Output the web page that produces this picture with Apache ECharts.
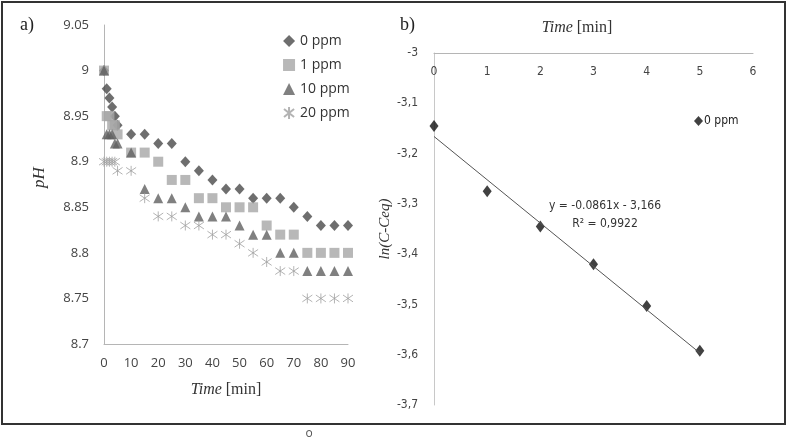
<!DOCTYPE html>
<html>
<head>
<meta charset="utf-8">
<script src="https://cdn.jsdelivr.net/npm/echarts@6/dist/echarts.min.js"></script>
<style>html,body{margin:0;padding:0;background:#fff;}#c{width:787px;height:438px;}</style>
</head>
<body>
<div id="c"></div>
<script>
// ---- Panel a) data ----
var timeA = [0, 1, 2, 3, 4, 5, 10, 15, 20, 25, 30, 35, 40, 45, 50, 55, 60, 65, 70, 75, 80, 85, 90];
var ph0 = [9.00, 8.98, 8.97, 8.96, 8.95, 8.94, 8.93, 8.93, 8.92, 8.92, 8.90, 8.89, 8.88, 8.87, 8.87, 8.86, 8.86, 8.86, 8.85, 8.84, 8.83, 8.83, 8.83];
var ph1 = [9.00, 8.95, 8.95, 8.94, 8.94, 8.93, 8.91, 8.91, 8.90, 8.88, 8.88, 8.86, 8.86, 8.85, 8.85, 8.85, 8.83, 8.82, 8.82, 8.80, 8.80, 8.80, 8.80];
var ph10 = [9.00, 8.93, 8.93, 8.93, 8.92, 8.92, 8.91, 8.87, 8.86, 8.86, 8.85, 8.84, 8.84, 8.84, 8.83, 8.82, 8.82, 8.80, 8.80, 8.78, 8.78, 8.78, 8.78];
var ph20 = [8.90, 8.90, 8.90, 8.90, 8.90, 8.89, 8.89, 8.86, 8.84, 8.84, 8.83, 8.83, 8.82, 8.82, 8.81, 8.80, 8.79, 8.78, 8.78, 8.75, 8.75, 8.75, 8.75];
var seriesNamesA = ['0 ppm', '1 ppm', '10 ppm', '20 ppm'];

// ---- Panel b) data ----
var timeB = [0, 1, 2, 3, 4, 5];
var lnC = [-3.145, -3.275, -3.345, -3.42, -3.503, -3.592];
var trendX = [0, 5];
var trendY = [-3.166, -3.5965];
var eqText = 'y = -0.0861x - 3,166';
var r2Text = 'R\u00B2 = 0,9922';

function pairs(xs, ys) { return xs.map(function (x, i) { return [x, ys[i]]; }); }

var starPath = 'path://M5,0 L5,10 M0.8,1.6 L9.2,8.4 M0.8,8.4 L9.2,1.6';
var sans = '"Open Sans", "Liberation Sans", sans-serif';
var narrow = '"DejaVu Sans Condensed", "Liberation Sans Narrow", "Liberation Sans", sans-serif';
var serif = '"Liberation Serif", "DejaVu Serif", serif';

var chart = echarts.init(document.getElementById('c'));
chart.setOption({
  backgroundColor: '#fff',
  animation: false,
  grid: [
    { left: 104, right: 439, top: 25, bottom: 94 },
    { left: 434, right: 34, top: 53, bottom: 33 }
  ],
  xAxis: [
    {
      gridIndex: 0, type: 'value', min: 0, max: 90, interval: 10,
      axisLine: { show: true, lineStyle: { color: '#b5b5b5', width: 1 } },
      axisTick: { show: false }, splitLine: { show: false },
      axisLabel: { margin: 13, color: '#444', fontFamily: sans, fontSize: 13 },
      name: '{i|Time} [min]', nameLocation: 'middle', nameGap: 38,
      nameTextStyle: { fontFamily: serif, fontSize: 16, color: '#333',
        rich: { i: { fontFamily: serif, fontStyle: 'italic', fontSize: 16, color: '#333' } } }
    },
    {
      gridIndex: 1, type: 'value', position: 'top', min: 0, max: 6, interval: 1,
      axisLine: { show: true, onZero: false, lineStyle: { color: '#b5b5b5', width: 1 } },
      axisTick: { show: false }, splitLine: { show: false },
      axisLabel: { inside: true, margin: 13, color: '#444', fontFamily: narrow, fontSize: 12 },
      name: '{i|Time} [min]', nameLocation: 'middle', nameGap: 17,
      nameTextStyle: { fontFamily: serif, fontSize: 16, color: '#333', padding: [0, 33, 0, 0],
        rich: { i: { fontFamily: serif, fontStyle: 'italic', fontSize: 16, color: '#333' } } }
    }
  ],
  yAxis: [
    {
      gridIndex: 0, type: 'value', min: 8.7, max: 9.05, interval: 0.05,
      axisLine: { show: true, lineStyle: { color: '#b5b5b5', width: 1 } },
      axisTick: { show: false }, splitLine: { show: false },
      axisLabel: { margin: 15, color: '#444', fontFamily: sans, fontSize: 13,
        formatter: function (v) { return String(Math.round(v * 100) / 100); } },
      name: 'pH', nameLocation: 'middle', nameGap: 56, nameRotate: 90,
      nameTextStyle: { fontFamily: serif, fontStyle: 'italic', fontSize: 17, color: '#333', padding: [0, 0, 0, 14] }
    },
    {
      gridIndex: 1, type: 'value', min: -3.7, max: -3, interval: 0.1,
      axisLine: { show: true, onZero: false, lineStyle: { color: '#c8c8c8', width: 1 } },
      axisTick: { show: false }, splitLine: { show: false },
      axisLabel: { margin: 16, color: '#444', fontFamily: narrow, fontSize: 12,
        formatter: function (v) { return (Math.round(v * 10) / 10).toString().replace('.', ','); } },
      name: 'ln(C-Ceq)', nameLocation: 'middle', nameGap: 32, nameRotate: 90,
      nameTextStyle: { fontFamily: serif, fontStyle: 'italic', fontSize: 15, color: '#333' }
    }
  ],
  legend: [
    {
      data: seriesNamesA, orient: 'vertical', left: 283, top: 34, itemGap: 10,
      itemWidth: 12, itemHeight: 12,
      textStyle: { fontFamily: sans, fontSize: 14, color: '#333' }, padding: 0
    },
    {
      data: ['0 ppm '], orient: 'vertical', left: 694, top: 115, itemGap: 4,
      itemWidth: 9, itemHeight: 10,
      textStyle: { fontFamily: narrow, fontSize: 12, color: '#222', padding: [0, 0, 0, -4] }, padding: 0
    }
  ],
  series: [
    { name: '0 ppm', type: 'scatter', xAxisIndex: 0, yAxisIndex: 0, symbol: 'diamond', symbolSize: [10, 11],
      itemStyle: { color: '#4a4a4a' }, data: pairs(timeA, ph0) },
    { name: '1 ppm', type: 'scatter', xAxisIndex: 0, yAxisIndex: 0, symbol: 'rect', symbolSize: 10,
      itemStyle: { color: '#a6a6a6' }, data: pairs(timeA, ph1) },
    { name: '10 ppm', type: 'scatter', xAxisIndex: 0, yAxisIndex: 0, symbol: 'triangle', symbolSize: 10,
      itemStyle: { color: '#606060' }, data: pairs(timeA, ph10) },
    { name: '20 ppm', type: 'scatter', xAxisIndex: 0, yAxisIndex: 0, symbol: starPath, symbolSize: 10,
      itemStyle: { color: 'rgba(0,0,0,0)', borderColor: '#a0a0a0', borderWidth: 1 }, data: pairs(timeA, ph20) },
    { name: 'trend', type: 'line', xAxisIndex: 1, yAxisIndex: 1, symbol: 'none', silent: true,
      lineStyle: { color: '#555', width: 1 }, data: pairs(trendX, trendY) },
    { name: '0 ppm ', type: 'scatter', xAxisIndex: 1, yAxisIndex: 1, symbol: 'diamond', symbolSize: [9, 12],
      itemStyle: { color: '#111' }, data: pairs(timeB, lnC) }
  ],
  graphic: [
    { type: 'rect', shape: { x: 2, y: 2, width: 783, height: 422 }, silent: true,
      style: { fill: 'none', stroke: '#333', lineWidth: 2 } },
    { type: 'text', left: 20, top: 16, style: { text: 'a)', font: '18px "Liberation Serif", serif', fill: '#222' } },
    { type: 'text', left: 400, top: 16, style: { text: 'b)', font: '18px "Liberation Serif", serif', fill: '#222' } },
    { type: 'text', x: 605, y: 206, style: { text: eqText, font: '12px ' + narrow, fill: '#333', align: 'center', verticalAlign: 'middle' } },
    { type: 'text', x: 605, y: 224, style: { text: r2Text, font: '12px ' + narrow, fill: '#333', align: 'center', verticalAlign: 'middle' } },
    { type: 'text', x: 309, y: 428, style: { text: 'o', font: '12px ' + sans, fill: '#555', align: 'center' } }
  ]
});
</script>
</body>
</html>
